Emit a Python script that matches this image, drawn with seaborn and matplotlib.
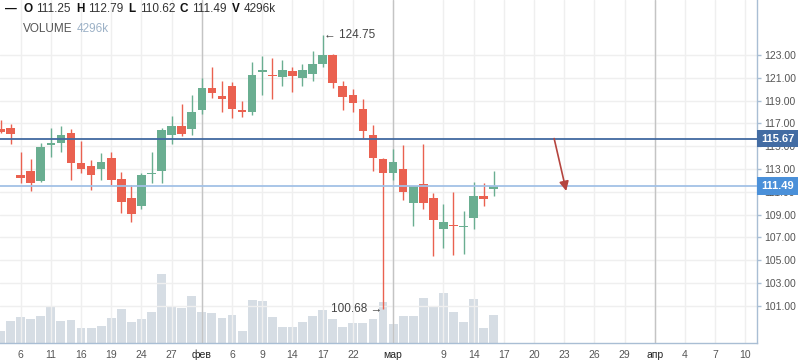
import numpy as np
import pandas as pd
import matplotlib
matplotlib.use('Agg')
import matplotlib.pyplot as plt
import matplotlib.transforms as mtransforms
import seaborn as sns

# dados (um candle por pregao)
abertura = [116.50, 116.62, 112.50, 112.85, 111.97, 115.07, 115.30, 116.18, 113.49, 113.29,
            113.02, 113.99, 112.15, 110.48, 109.72, 112.53, 112.85, 116.01, 116.80, 116.54,
            118.20, 120.13, 119.43, 120.31, 118.20, 118.03, 121.54, 121.27, 121.10, 121.63,
            121.01, 121.36, 122.24, 123.03, 120.27, 119.48, 118.25, 115.96, 113.86, 112.63,
            112.98, 109.99, 111.66, 110.43, 107.71, 108.09, 107.91, 108.67, 110.60, 111.25]
maxima = [117.29, 116.94, 114.51, 113.90, 115.25, 116.56, 116.74, 116.53, 115.48, 113.81,
          114.43, 114.51, 112.76, 111.62, 112.67, 114.51, 116.62, 117.68, 118.73, 119.52,
          121.01, 121.98, 120.75, 120.66, 118.99, 122.42, 122.94, 122.77, 122.53, 121.98,
          122.24, 123.38, 124.75, 123.06, 120.71, 120.00, 119.13, 116.84, 113.94, 114.73,
          115.08, 111.50, 115.17, 110.87, 109.90, 110.96, 109.29, 111.83, 111.75, 112.79]
minima = [116.20, 115.19, 111.74, 111.09, 111.82, 114.02, 114.51, 112.06, 112.61, 111.18,
          112.06, 111.56, 109.11, 108.32, 109.46, 111.74, 111.74, 115.16, 115.92, 116.01,
          117.85, 119.26, 118.03, 117.50, 117.59, 117.77, 119.52, 119.17, 120.31, 119.78,
          120.31, 120.75, 121.98, 120.15, 118.16, 117.98, 115.70, 112.80, 100.68, 112.01,
          110.25, 107.97, 109.46, 105.33, 106.04, 105.42, 105.51, 107.71, 109.73, 110.62]
fechamento = [116.27, 116.03, 112.18, 111.74, 114.95, 115.30, 116.01, 113.49, 113.02, 112.50,
              113.64, 112.06, 110.07, 109.02, 112.50, 112.61, 116.44, 116.80, 116.10, 118.03,
              120.13, 119.70, 119.17, 118.29, 118.03, 121.27, 121.71, 121.19, 121.71, 121.19,
              121.71, 122.24, 123.03, 120.57, 119.30, 118.77, 116.31, 113.94, 112.63, 113.59,
              110.96, 111.48, 109.99, 108.50, 108.32, 108.00, 108.00, 110.60, 110.34, 111.49]
volume_k = [1890, 3375, 3990, 3680, 4140, 5675, 3375, 3530, 2300, 2300,
            2610, 3835, 5215, 3220, 3680, 4755, 10585, 5520, 5370, 7210,
            4755, 4600, 3835, 4295, 1840, 6595, 6445, 3990, 2455, 2455,
            3220, 4140, 5060, 3680, 2455, 3070, 3070, 3680, 6290, 2915,
            4140, 4140, 6905, 5520, 7670, 4755, 3220, 6750, 2300, 4296]

# eixo x: indice do pregao (futuro continua a contagem)
ticks_x = [2, 5, 8, 11, 14, 17, 20, 23, 26, 29, 32, 35, 39, 44, 47, 50, 53, 56, 59, 62, 65, 68, 71, 74]
rotulos_x = ['6', '11', '16', '19', '24', '27', 'фев', '6', '9', '14', '17', '22', 'мар',
             '9', '14', '17', '20', '23', '26', '29', 'апр', '4', '7', '10']
meses = [20, 39, 65]
ticks_y = [101, 103, 105, 107, 109, 111, 113, 115, 117, 119, 121, 123]

cursor_preco = 115.67
ultimo_preco = 111.49
seta_inicio = (55.0, 115.67)
seta_fim = (56.2, 111.07)

df = pd.DataFrame({'o': abertura, 'h': maxima, 'l': minima, 'c': fechamento, 'vol': volume_k})
df['i'] = np.arange(len(df))
verde = '#6aae91'
vermelho = '#ea6150'
df['cor'] = np.where(df['c'] >= df['o'], verde, vermelho)

sns.set_theme(style='white')
plt.rcParams['font.family'] = ['Liberation Sans', 'DejaVu Sans']

W, H = 798, 363
fig = plt.figure(figsize=(W / 100, H / 100), dpi=100)
ret = [0, 20 / H, 757 / W, 343 / H]
axv = fig.add_axes(ret, zorder=1)
ax = fig.add_axes(ret, zorder=2, sharex=axv)
ax.patch.set_visible(False)

# volume
sns.barplot(x=df['i'], y=df['vol'], native_scale=True, ax=axv, color='#d6dde4',
            saturation=1, width=0.88, errorbar=None, linewidth=0)
axv.set_ylim(0, 52600)
axv.set_xlabel('')
axv.set_ylabel('')
axv.set_yticks([])
for s in axv.spines.values():
    s.set_visible(False)

# candles
ax.vlines(df['i'], df['l'], df['h'], colors=df['cor'], lw=1, zorder=3)
corpo = np.maximum((df['c'] - df['o']).abs(), 0.07)
ax.bar(df['i'], corpo, bottom=np.minimum(df['o'], df['c']), width=0.85,
       color=df['cor'], linewidth=0, zorder=4)

ax.set_xlim(-0.05, 75.15)
ax.set_ylim(97.73, 127.83)

ax.set_xticks(ticks_x)
ax.set_xticklabels(rotulos_x)
ax.set_yticks(ticks_y)
ax.set_yticklabels([f'{v:.2f}' for v in ticks_y])
ax.yaxis.tick_right()
ax.grid(True, color='#efefef', lw=1)
ax.set_axisbelow(True)
for m in meses:
    ax.axvline(m, color='#c4c4c4', lw=1, zorder=1)

ax.tick_params(axis='x', length=0, pad=5, labelsize=7.5, labelcolor='#555555')
ax.tick_params(axis='y', length=3, width=1, color='#a9bed4', pad=2, labelsize=7.5,
               labelcolor='#555555')
for lbl in ax.get_xticklabels():
    if lbl.get_text() in ('фев', 'мар', 'апр'):
        lbl.set_color('#222222')
axv.tick_params(axis='x', length=0, labelbottom=False)

for k in ('top', 'left'):
    ax.spines[k].set_visible(False)
for k in ('right', 'bottom'):
    ax.spines[k].set_color('#a9bed4')
    ax.spines[k].set_linewidth(1)

# linhas de preco
ax.axhline(cursor_preco, color='#4169a0', lw=1.3, zorder=5)
ax.axhline(ultimo_preco, color='#a3c1e6', lw=1.3, zorder=5)
trans = mtransforms.blended_transform_factory(ax.transAxes, ax.transData)
for preco, cor in [(cursor_preco, '#436ca3'), (ultimo_preco, '#4a90d9')]:
    ax.text(1 + 4 / 757, preco, f'{preco:.2f}', transform=trans, ha='left', va='center',
            color='white', fontsize=8, fontweight='bold', zorder=10,
            bbox=dict(boxstyle='square,pad=0.35', fc=cor, ec='none'))

# maxima e minima
ax.text(32 + 0.15, 124.75, '← 124.75', ha='left', va='center', fontsize=8.5, color='#444444', zorder=6)
ax.text(38 - 0.1, 100.68, '100.68 →', ha='right', va='center', fontsize=8.5, color='#444444', zorder=6)

# seta desenhada
ax.annotate('', xy=seta_fim, xytext=seta_inicio,
            arrowprops=dict(arrowstyle='-|>', color='#b5453f', lw=1.2, mutation_scale=14,
                            shrinkA=0, shrinkB=0), zorder=6)

# cabecalho
def px(x, y):
    return x / W, 1 - y / H

cab = [(5, '—', 'bold', '#111111'), (23, 'O', 'bold', '#111111'), (36, '111.25', 'normal', '#333333'),
       (76, 'H', 'bold', '#111111'), (88, '112.79', 'normal', '#333333'),
       (128, 'L', 'bold', '#111111'), (140, '110.62', 'normal', '#333333'),
       (179, 'C', 'bold', '#111111'), (192, '111.49', 'normal', '#333333'),
       (232, 'V', 'bold', '#111111'), (244, '4296k', 'normal', '#333333')]
for x, t, w, c in cab:
    fig.text(*px(x, 9), t, fontsize=8.5, fontweight=w, color=c, va='center', ha='left')
fig.text(*px(23, 29), 'VOLUME', fontsize=8.5, color='#555555', va='center', ha='left')
fig.text(*px(77, 29), '4296k', fontsize=8.5, color='#9db2c7', va='center', ha='left')

fig.savefig('out.png', dpi=100)
